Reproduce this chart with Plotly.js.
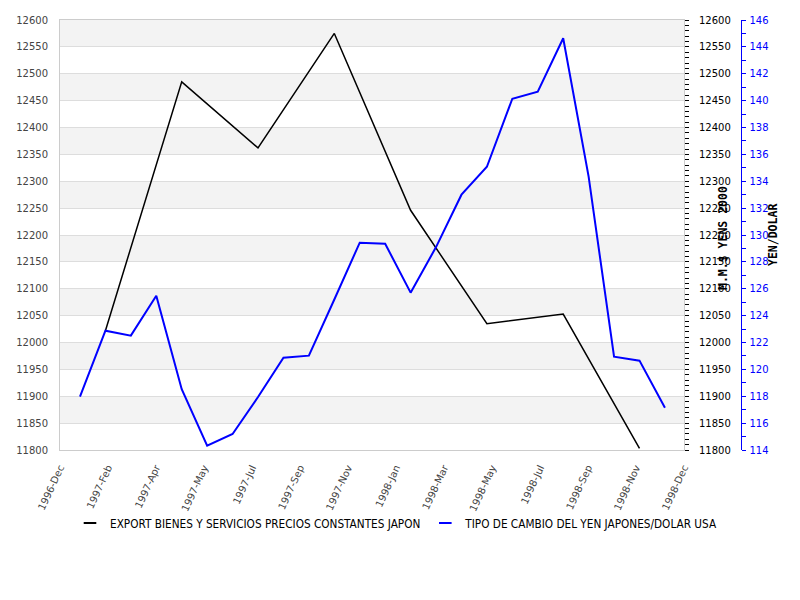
<!DOCTYPE html>
<html>
<head>
<meta charset="utf-8">
<script src="https://cdn.plot.ly/plotly-3.0.1.min.js"></script>
<style>html,body{margin:0;padding:0;background:#fff;}#chart{width:800px;height:600px;}</style>
</head>
<body>
<div id="chart"></div>
<script>
// ---- data ----
var months = ['1997-01','1997-02','1997-03','1997-04','1997-05','1997-06','1997-07','1997-08','1997-09','1997-10','1997-11','1997-12',
              '1998-01','1998-02','1998-03','1998-04','1998-05','1998-06','1998-07','1998-08','1998-09','1998-10','1998-11','1998-12'];
var yenDollar = [117.97,122.88,122.51,125.48,118.52,114.32,115.19,117.94,120.87,121.02,125.2,129.43,
                 129.35,125.71,129.1,133.0,135.08,140.14,140.66,144.64,134.34,120.94,120.65,117.15];
var exportMonths = ['1997-02','1997-05','1997-08','1997-11','1998-02','1998-05','1998-08','1998-11'];
var exportVals = [12022,12485,12362,12575,12246,12035,12053,11803];
var xTickLabels = ['1996-Dec','1997-Feb','1997-Apr','1997-May','1997-Jul','1997-Sep','1997-Nov','1998-Jan','1998-Mar','1998-May','1998-Jul','1998-Sep','1998-Nov','1998-Dec'];
var leftTicks = [11800,11850,11900,11950,12000,12050,12100,12150,12200,12250,12300,12350,12400,12450,12500,12550,12600];
var yenTicks = [114,116,118,120,122,124,126,128,130,132,134,136,138,140,142,144,146];
var nameExport = 'EXPORT BIENES Y SERVICIOS PRECIOS CONSTANTES JAPON';
var nameYen = 'TIPO DE CAMBIO DEL YEN JAPONES/DOLAR USA';
var titleExport = 'M.M.$ YENS 2000';
var titleYen = 'YEN/DOLAR';

// ---- build ----
function idx(m){ return months.indexOf(m); }
var xRange = [-0.786, 23.75];
var tickvals = xTickLabels.map(function(_, i){ return xRange[0] + (xRange[1]-xRange[0]) * i / (xTickLabels.length-1); });
var leftText = leftTicks.map(String);
var yenText = yenTicks.map(String);

var shapes = [];
for (var i = leftTicks.length - 1; i > 0; i -= 2) {
  shapes.push({type:'rect', layer:'below', xref:'x domain', yref:'y', x0:0, x1:1,
    y0:leftTicks[i-1], y1:leftTicks[i], fillcolor:'#f3f3f3', line:{width:0}});
}

var baseFont = 'DejaVu Sans, sans-serif';
var traces = [
  {x: exportMonths.map(idx), y: exportVals, type:'scatter', mode:'lines', yaxis:'y',
   line:{color:'#000000', width:1.5}, showlegend:false, hoverinfo:'skip'},
  {x: months.map(idx), y: yenDollar, type:'scatter', mode:'lines', yaxis:'y3',
   line:{color:'#0000ff', width:2}, showlegend:false, hoverinfo:'skip'},
  {x:[null], y:[null], type:'scatter', mode:'markers', name: nameExport,
   marker:{symbol:'line-ew', size:9, line:{color:'#000000', width:2}}},
  {x:[null], y:[null], type:'scatter', mode:'markers', name: nameYen,
   marker:{symbol:'line-ew', size:9, line:{color:'#0000ff', width:2}}},
  {x:[null], y:[null], yaxis:'y2', type:'scatter', mode:'lines', showlegend:false, hoverinfo:'skip'}
];

var xDomEnd = (684-60)/720;
var layout = {
  width:800, height:600,
  margin:{l:60, r:20, t:20, b:150},
  paper_bgcolor:'#ffffff', plot_bgcolor:'#ffffff',
  font:{family: baseFont, size:10, color:'#444'},
  showlegend:true,
  legend:{orientation:'h', x:(70-60)/720, xanchor:'left', y:(450-523)/430, yanchor:'middle',
    font:{family:'DejaVu Sans Condensed, Liberation Sans, sans-serif', size:11.7, color:'#000'},
    bgcolor:'rgba(0,0,0,0)', itemwidth:30, tracegroupgap:0},
  xaxis:{domain:[0, xDomEnd], range:xRange, tickmode:'array', tickvals:tickvals, ticktext:xTickLabels,
    tickangle:-65, tickfont:{size:10, color:'#444'}, showgrid:false, zeroline:false,
    showline:true, linecolor:'#cccccc', linewidth:1, mirror:true, ticks:'', ticklabelstandoff:7},
  yaxis:{range:[11800,12600], tickmode:'array', tickvals:leftTicks, ticktext:leftText, showgrid:true, gridcolor:'#dddddd',
    gridwidth:1, zeroline:false, showline:true, linecolor:'#cccccc', linewidth:1, mirror:true,
    tickfont:{size:10, color:'#444'}, ticks:'', ticklabelstandoff:9},
  yaxis2:{overlaying:'y', range:[11800,12600], side:'right', anchor:'free', position:xDomEnd,
    tickmode:'array', tickvals:leftTicks, ticktext:leftText, showgrid:false, zeroline:false, showline:false,
    ticks:'outside', ticklen:4, tickcolor:'#000', tickwidth:1,
    minor:{dtick:10, ticks:'outside', ticklen:4, tickcolor:'#000', showgrid:false},
    tickfont:{size:10, color:'#000'}, ticklabelstandoff:8},
  yaxis3:{overlaying:'y', range:[114,146], side:'right', anchor:'free', position:(740.5-60)/720,
    tickmode:'array', tickvals:yenTicks, ticktext:yenText, showgrid:false, zeroline:false, showline:true,
    linecolor:'#0000ff', linewidth:1, ticks:'outside', ticklen:4, tickcolor:'#0000ff', tickwidth:1,
    minor:{dtick:1, ticks:'outside', ticklen:4, tickcolor:'#0000ff', showgrid:false},
    tickfont:{size:10, color:'#0000ff'}, ticklabelstandoff:2},
  shapes: shapes,
  annotations:[
    {xref:'paper', yref:'paper', x:(723-60)/720, y:(450-238)/430, xanchor:'center', yanchor:'middle',
     text:titleExport, textangle:-90, showarrow:false,
     font:{family:'DejaVu Sans Mono, monospace', size:11.5, color:'#000', weight:'bold'}},
    {xref:'paper', yref:'paper', x:(773-60)/720, y:(450-235)/430, xanchor:'center', yanchor:'middle',
     text:titleYen, textangle:-90, showarrow:false,
     font:{family:'DejaVu Sans Mono, monospace', size:11.5, color:'#000', weight:'bold'}}
  ]
};

Plotly.newPlot('chart', traces, layout, {displayModeBar:false, staticPlot:true});
</script>
</body>
</html>
